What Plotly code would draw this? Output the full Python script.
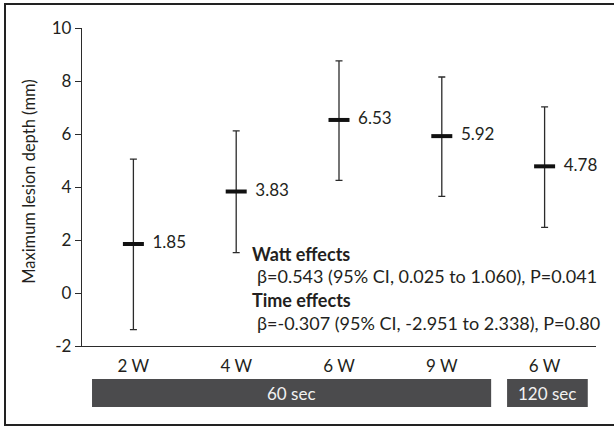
import plotly.graph_objects as go

categories = ["2 W", "4 W", "6 W", "9 W", "6 W"]
means = [1.85, 3.83, 6.53, 5.92, 4.78]
err_upper = [5.05, 6.12, 8.76, 8.15, 7.02]
err_lower = [-1.38, 1.52, 4.25, 3.65, 2.48]
mean_labels = ["1.85", "3.83", "6.53", "5.92", "4.78"]
y_ticks = [-2, 0, 2, 4, 6, 8, 10]
y_tick_labels = ["-2", "0", "2", "4", "6", "8", "10"]
group_labels = ["60 sec", "120 sec"]
stat_lines = [
    "<b>Watt effects</b>",
    "β=0.543 (95% CI, 0.025 to 1.060), P=0.041",
    "<b>Time effects</b>",
    "β=-0.307 (95% CI, -2.951 to 2.338), P=0.80",
]

xpos = list(range(len(categories)))
FONT = "Lato, Open Sans, sans-serif"
TXT = "#231f20"
LINE = "#2b2b2b"

fig = go.Figure()
fig.add_trace(go.Scatter(
    x=xpos, y=means, mode="markers+text",
    marker=dict(symbol="line-ew", size=15, line=dict(width=4, color="#111111")),
    error_y=dict(type="data", symmetric=False,
                 array=[u - m for u, m in zip(err_upper, means)],
                 arrayminus=[m - l for m, l in zip(means, err_lower)],
                 color=LINE, thickness=1.3, width=3.5),
    text=["  " + t for t in mean_labels], textposition="middle right",
    textfont=dict(family=FONT, size=17, color=TXT),
    showlegend=False, hoverinfo="skip", cliponaxis=False,
))

fig.update_layout(
    width=614, height=426,
    margin=dict(l=82, r=18, t=28, b=80),
    paper_bgcolor="white", plot_bgcolor="white",
    font=dict(family=FONT, color=TXT, size=17),
    xaxis=dict(range=[-0.5, 4.5], tickvals=xpos, ticktext=categories,
               showgrid=False, zeroline=False, showline=True, linecolor=LINE,
               linewidth=1.3, ticks="", ticklabelstandoff=4,
               tickfont=dict(size=17, color=TXT)),
    yaxis=dict(range=[-2, 10], tickvals=y_ticks, ticktext=y_tick_labels,
               showgrid=False, zeroline=False,
               showline=True, linecolor=LINE, linewidth=1.3, ticks="outside",
               ticklen=6, tickcolor=LINE, tickfont=dict(size=17, color=TXT)),
)

shapes = []
# outer frame
shapes.append(dict(type="rect", xref="paper", yref="paper",
                   x0=-0.1498, x1=1.06, y0=-0.2484, y1=1.0755,
                   line=dict(color="#222222", width=2)))
# group bars
bar_x = [(0.0195, 0.796), (0.827, 0.984)]
for (x0, x1), lab in zip(bar_x, group_labels):
    shapes.append(dict(type="rect", xref="paper", yref="paper",
                       x0=x0, x1=x1, y0=-0.192, y1=-0.104,
                       fillcolor="#4b4b4d", line=dict(width=0), layer="below"))
    fig.add_annotation(xref="paper", yref="paper", x=(x0 + x1) / 2, y=-0.148,
                       xanchor="center", yanchor="middle",
                       text=lab, showarrow=False,
                       font=dict(family=FONT, size=17, color="#f2f2f2"))
fig.update_layout(shapes=shapes)

# y-axis title
fig.add_annotation(xref="paper", yref="paper", x=-0.102, xanchor="center",
                   y=0.518, yanchor="middle", textangle=-90,
                   text="Maximum lesion depth (mm)", showarrow=False,
                   font=dict(family=FONT, size=16.5, color=TXT))

# stats text
stat_y = [254, 276, 300, 323]
stat_x = [250, 255, 250, 255]
for line, px, py in zip(stat_lines, stat_x, stat_y):
    fig.add_annotation(xref="paper", yref="paper", x=(px - 82) / 514,
                       xanchor="left", y=(346 - py) / 318, yanchor="middle",
                       text=line, showarrow=False,
                       font=dict(family=FONT, size=18, color=TXT))

fig.write_html("out.html", config={"displayModeBar": False},
               post_script="document.body.style.margin='0';document.body.style.padding='0';")
